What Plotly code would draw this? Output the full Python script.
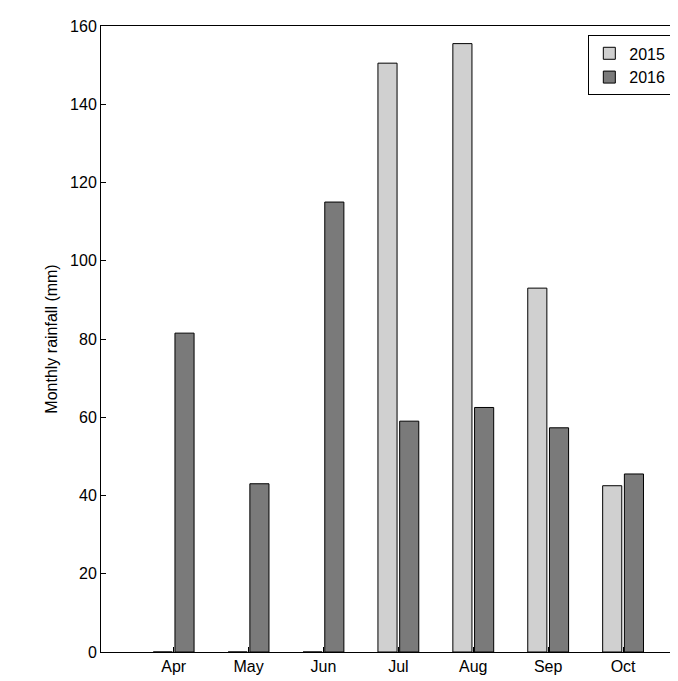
import plotly.graph_objects as go

months = ["Apr", "May", "Jun", "Jul", "Aug", "Sep", "Oct"]
rain_2015 = [0, 0, 0, 150.5, 155.5, 93, 42.5]
rain_2016 = [81.5, 43, 115, 59, 62.5, 57.3, 45.5]

x = list(range(1, len(months) + 1))

fig = go.Figure()
fig.add_trace(go.Bar(x=x, y=rain_2015, name="2015",
                     marker=dict(color="#d0d0d0", line=dict(color="black", width=1))))
fig.add_trace(go.Bar(x=x, y=rain_2016, name="2016",
                     marker=dict(color="#7a7a7a", line=dict(color="black", width=1))))

axis_style = dict(showline=True, linecolor="black", linewidth=1, mirror=True,
                  ticks="inside", ticklen=5, tickcolor="black", showgrid=False,
                  zeroline=False, tickfont=dict(size=16, color="black"))

fig.update_layout(
    width=678, height=681,
    barmode="group", bargap=0.42, bargroupgap=0.12,
    plot_bgcolor="white", paper_bgcolor="white",
    font=dict(family="Liberation Sans, Arial, sans-serif", color="black"),
    margin=dict(l=93, r=6, t=18, b=37),
    xaxis=dict(range=[0.03, 7.76], tickvals=x, ticktext=months, **axis_style),
    yaxis=dict(range=[0, 160], dtick=20,
               title=dict(text="Monthly rainfall (mm)", font=dict(size=16), standoff=8),
               **axis_style),
    legend=dict(x=0.985, y=0.985, xanchor="right", yanchor="top",
                bordercolor="black", borderwidth=1, bgcolor="white",
                font=dict(size=16), traceorder="normal"),
)

fig.write_html("out.html")
